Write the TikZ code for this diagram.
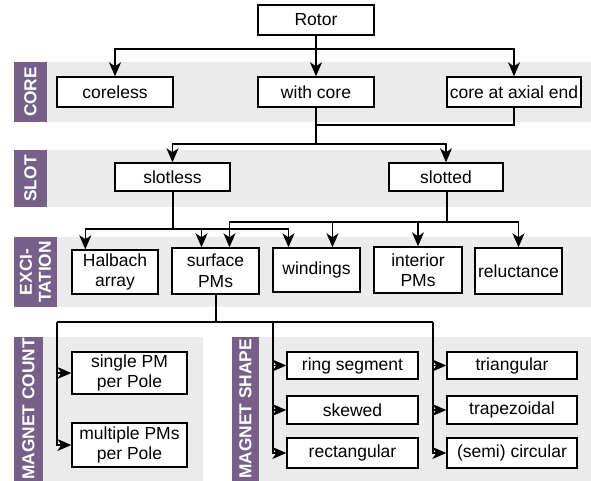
\documentclass[tikz,border=0pt]{standalone}
\usepackage{fontspec}
\setmainfont{Liberation Sans}
\usepackage{tikz}
\usetikzlibrary{arrows.meta, positioning, calc, backgrounds}
\definecolor{bandgray}{RGB}{235, 235, 235}
\definecolor{tagpurple}{RGB}{118, 96, 138}
\tikzset{
  >=Stealth,
  flowarrow/.style={-{Stealth[length=14pt, width=12pt, inset=4pt]}, line width=1.5pt, black},
  flowline/.style={line width=1.5pt, black}
}

\begin{document}
\begin{tikzpicture}[
    x=1pt, y=-1pt,
    box/.style={rectangle, draw=black, line width=1.4pt, fill=white, align=center, inner sep=0pt, font=\fontsize{17.5}{20.5}\selectfont},
    band/.style={fill=bandgray},
    tag/.style={rectangle, fill=tagpurple, text=white, rotate=90, inner sep=0pt, align=center, font=\fontsize{17.3}{19}\selectfont\bfseries}
]
    \useasboundingbox (0,0) rectangle (591,481);

    % Background groupings
    \fill[band] (14,62) rectangle (591,122);
    \fill[band] (14,150) rectangle (591,207);
    \fill[band] (14,237) rectangle (591,307);
    \fill[band] (14,337) rectangle (203,481);
    \fill[band] (232,337) rectangle (591,481);

    \node[tag, minimum width=60pt, minimum height=33pt] (t_core) at (30.5,92) {CORE};
    \node[tag, minimum width=57pt, minimum height=33pt] (t_slot) at (30.5,178.5) {SLOT};
    \node[tag, minimum width=70pt, minimum height=43pt] (t_exc) at (35.5,272) {EXCI-\\TATION};
    \node[tag, minimum width=144pt, minimum height=29pt] (t_count) at (28.5,409) {MAGNET COUNT};
    \node[tag, minimum width=144pt, minimum height=27pt] (t_shape) at (245.5,409) {MAGNET SHAPE};

    % Nodes
    \node[box, minimum width=116pt, minimum height=30pt] (rotor) at (316,20) {Rotor};

    \node[box, minimum width=116pt, minimum height=30pt] (coreless) at (115,92) {coreless};
    \node[box, minimum width=116pt, minimum height=30pt] (withcore) at (316,92) {with core};
    \node[box, minimum width=134pt, minimum height=30pt] (axialend) at (514,92) {core at axial end};

    \node[box, minimum width=115pt, minimum height=28pt] (slotless) at (172.5,177) {slotless};
    \node[box, minimum width=114pt, minimum height=28pt] (slotted) at (446,177) {slotted};

    \node[box, minimum width=86pt, minimum height=44pt] (halbach) at (115,272) {Halbach\\array};
    \node[box, minimum width=87pt, minimum height=46pt] (surface) at (215.5,271) {surface\\PMs};
    \node[box, minimum width=87pt, minimum height=44pt] (windings) at (316.5,270) {windings};
    \node[box, minimum width=88pt, minimum height=46pt] (interior) at (418,270) {interior\\PMs};
    \node[box, minimum width=87pt, minimum height=46pt] (reluct) at (518.5,271) {reluctance};

    \node[box, minimum width=115pt, minimum height=42pt] (single) at (129.5,373) {single PM\\per Pole};
    \node[box, minimum width=115pt, minimum height=44pt] (multiple) at (129.5,445) {multiple PMs\\per Pole};

    \node[box, minimum width=131pt, minimum height=27pt] (ring) at (352.5,365.5) {ring segment};
    \node[box, minimum width=131pt, minimum height=28pt] (skewed) at (352.5,410) {skewed};
    \node[box, minimum width=131pt, minimum height=30pt] (rectang) at (352.5,453) {rectangular};
    \node[box, minimum width=130pt, minimum height=27pt] (triang) at (512,365.5) {triangular};
    \node[box, minimum width=130pt, minimum height=28pt] (trapez) at (512,410) {trapezoidal};
    \node[box, minimum width=130pt, minimum height=30pt] (semicirc) at (512,453) {(semi) circular};

    % Junctions
    \coordinate (j_rotor) at (316,49);
    \coordinate (j_core) at (316,125);
    \coordinate (j_slot) at (316,144);
    \coordinate (j_less) at (173,229);
    \coordinate (j_ted) at (447,222);
    \coordinate (j_pm) at (216,322);
    \coordinate (j_left) at (57,322);
    \coordinate (j_mid) at (273,322);
    \coordinate (j_right) at (433,322);

    % Arrows
    \draw[flowarrow] (rotor) -- (withcore);
    \draw[flowarrow] (j_rotor) -| (coreless);
    \draw[flowarrow] (j_rotor) -| (axialend);

    \draw[flowline] (withcore) -- (j_slot);
    \draw[flowline] (axialend) |- (j_core);
    \draw[flowarrow] (j_slot) -| (slotless);
    \draw[flowarrow] (j_slot) -| (slotted);

    \draw[flowline] (slotless.south -| j_less) -- (j_less);
    \draw[flowarrow] (j_less) -| ([xshift=14pt]halbach.north west);
    \draw[flowarrow] (j_less) -| ([xshift=-14pt]surface.north);
    \draw[flowarrow] (j_less) -| ([xshift=-28pt]windings.north);

    \draw[flowline] (slotted.south -| j_ted) -- (j_ted);
    \draw[flowarrow] (j_ted) -| ([xshift=14pt]surface.north);
    \draw[flowarrow] (j_ted) -| ([xshift=16pt]windings.north);
    \draw[flowarrow] (j_ted) -| (interior);
    \draw[flowarrow] (j_ted) -| (reluct);

    \draw[flowline] (surface.south -| j_pm) -- (j_pm);
    \draw[flowline] (j_left) -- (j_right);
    \draw[flowarrow] (j_left) |- (single);
    \draw[flowarrow] (j_left) |- (multiple);
    \draw[flowarrow] (j_mid) |- (ring);
    \draw[flowarrow] (j_mid) |- (skewed);
    \draw[flowarrow] (j_mid) |- (rectang);
    \draw[flowarrow] (j_right) |- (triang);
    \draw[flowarrow] (j_right) |- (trapez);
    \draw[flowarrow] (j_right) |- (semicirc);
\end{tikzpicture}
\end{document}
